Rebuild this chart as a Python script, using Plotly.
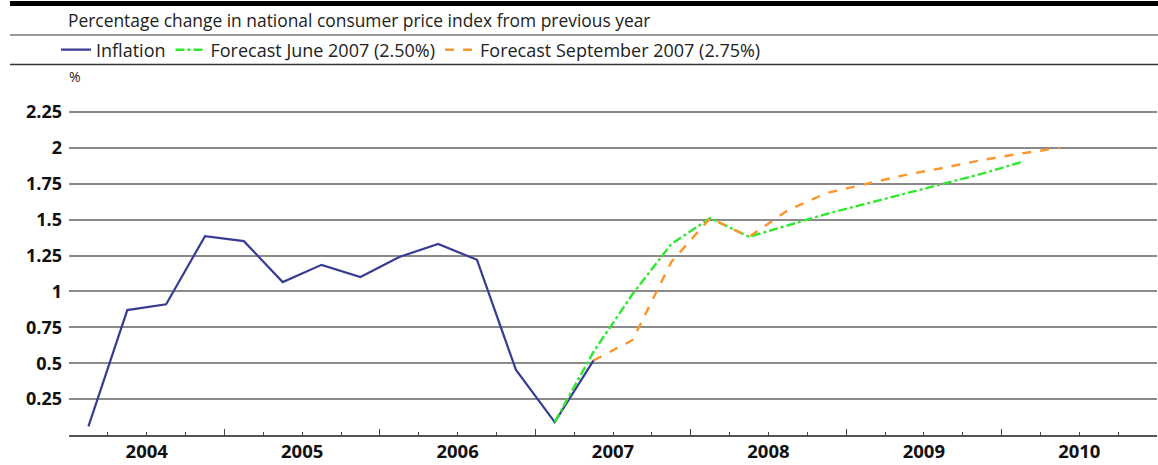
import plotly.graph_objects as go

# ---------------- data ----------------
title_text = "Percentage change in national consumer price index from previous year"
y_unit = "%"

infl_quarters = ["2004Q1", "2004Q2", "2004Q3", "2004Q4",
                 "2005Q1", "2005Q2", "2005Q3", "2005Q4",
                 "2006Q1", "2006Q2", "2006Q3", "2006Q4",
                 "2007Q1", "2007Q2"]
inflation = [0.06, 0.87, 0.91, 1.385, 1.35, 1.065, 1.185, 1.10,
             1.24, 1.33, 1.22, 0.455, 0.09, 0.52]

june_quarters = ["2007Q1", "2007Q2", "2007Q3", "2007Q4",
                 "2008Q1", "2008Q2", "2008Q3", "2008Q4",
                 "2009Q1", "2009Q2", "2009Q3", "2009Q4", "2010Q1"]
forecast_june = [0.09, 0.58, 0.98, 1.33, 1.51, 1.38, 1.46, 1.54,
                 1.61, 1.68, 1.75, 1.82, 1.90]

sept_quarters = ["2007Q2", "2007Q3", "2007Q4",
                 "2008Q1", "2008Q2", "2008Q3", "2008Q4",
                 "2009Q1", "2009Q2", "2009Q3", "2009Q4", "2010Q1", "2010Q2"]
forecast_sept = [0.52, 0.66, 1.205, 1.51, 1.38, 1.565, 1.685,
                 1.75, 1.81, 1.86, 1.915, 1.96, 2.0]

series_names = ["Inflation", "Forecast June 2007 (2.50%)", "Forecast September 2007 (2.75%)"]

year_labels = ["2004", "2005", "2006", "2007", "2008", "2009", "2010"]
y_tick_values = [0.25, 0.5, 0.75, 1.0, 1.25, 1.5, 1.75, 2.0, 2.25]
y_tick_labels = ["0.25", "0.5", "0.75", "1", "1.25", "1.5", "1.75", "2", "2.25"]


def qpos(q):
    """Quarter label -> position at the middle of that quarter on a year scale."""
    year, quarter = int(q[:4]), int(q[5])
    return year + (quarter - 0.5) / 4.0


# ---------------- layout geometry ----------------
W, H = 1158, 465
ML, MR, MT, MB = 69, 1, 76, 30
PW, PH = W - ML - MR, H - MT - MB


def px_x(px):
    return (px - ML) / PW


def px_y(py):
    return (H - MB - py) / PH


FONT = "Open Sans"
years = [int(y) for y in year_labels]
x0, x1 = years[0], years[-1] + 1

fig = go.Figure()

fig.add_trace(go.Scatter(
    x=[qpos(q) for q in infl_quarters], y=inflation, mode="lines",
    name=series_names[0], line=dict(color="#383c92", width=2.2),
    xaxis="x", yaxis="y"))
fig.add_trace(go.Scatter(
    x=[qpos(q) for q in june_quarters], y=forecast_june, mode="lines",
    name=series_names[1], line=dict(color="#2ee82e", width=2.4, dash="dashdot"),
    xaxis="x", yaxis="y"))
fig.add_trace(go.Scatter(
    x=[qpos(q) for q in sept_quarters], y=forecast_sept, mode="lines",
    name=series_names[2], line=dict(color="#fb962c", width=2.4, dash="dash"),
    xaxis="x", yaxis="y"))

# invisible trace to carry the label axis
fig.add_trace(go.Scatter(x=[x0, x1], y=[None, None], xaxis="x2", yaxis="y",
                         showlegend=False, hoverinfo="skip"))

fig.update_layout(
    width=W, height=H,
    margin=dict(l=ML, r=MR, t=MT, b=MB, autoexpand=False),
    paper_bgcolor="white", plot_bgcolor="white",
    font=dict(family=FONT, color="#111"),
    showlegend=True,
    legend=dict(orientation="h", x=px_x(56), y=px_y(50), xanchor="left", yanchor="middle",
                font=dict(family=FONT, size=18, color="#222"),
                bgcolor="rgba(0,0,0,0)", borderwidth=0, traceorder="normal",
                itemwidth=30),
    xaxis=dict(range=[x0, x1], tickvals=list(range(x0, x1 + 1)),
               ticktext=["" for _ in range(x0, x1 + 1)],
               ticks="inside", ticklen=6, tickwidth=1.3, tickcolor="#444",
               minor=dict(dtick=0.25, tick0=x0, ticks="inside", ticklen=3,
                          tickwidth=1.1, tickcolor="#444", showgrid=False),
               showgrid=False, zeroline=False, automargin=False,
               showline=True, linecolor="#555", linewidth=1.5,
               fixedrange=True),
    xaxis2=dict(range=[x0, x1], overlaying="x", anchor="y", side="bottom",
                tickvals=[y + 0.5 for y in years], ticktext=year_labels,
                ticks="", showgrid=False, zeroline=False, showline=False,
                automargin=False, ticklabelstandoff=3,
                tickfont=dict(family=FONT, size=18.5, color="#111", weight="bold"),
                fixedrange=True),
    yaxis=dict(range=[0, 2.5], tickvals=y_tick_values, ticktext=y_tick_labels,
               ticks="", showgrid=True, gridcolor="#8a8a8a", gridwidth=1.5,
               zeroline=False, showline=False, automargin=False,
               tickfont=dict(family=FONT, size=18, color="#111", weight="bold"),
               ticklabelstandoff=6,
               fixedrange=True),
)

# header rules
fig.add_shape(type="line", xref="paper", yref="paper",
              x0=px_x(10), x1=px_x(W + 2), y0=px_y(3.5), y1=px_y(3.5),
              line=dict(color="#000", width=5))
fig.add_shape(type="line", xref="paper", yref="paper",
              x0=px_x(10), x1=px_x(W + 2), y0=px_y(35), y1=px_y(35),
              line=dict(color="#9a9a9a", width=2))
fig.add_shape(type="line", xref="paper", yref="paper",
              x0=px_x(10), x1=px_x(W + 2), y0=px_y(64.5), y1=px_y(64.5),
              line=dict(color="#333", width=1.5))

fig.add_annotation(text=title_text, xref="paper", yref="paper",
                   x=px_x(66), y=px_y(20), xanchor="left", yanchor="middle",
                   showarrow=False, font=dict(family=FONT, size=17.4, color="#222"))
fig.add_annotation(text=y_unit, xref="paper", yref="paper",
                   x=px_x(75), y=px_y(77), xanchor="center", yanchor="middle",
                   showarrow=False, font=dict(family=FONT, size=14, color="#222"))

fig.write_html("out.html", config={"displayModeBar": False},
               post_script="document.body.style.margin='0';document.body.style.padding='0';")
